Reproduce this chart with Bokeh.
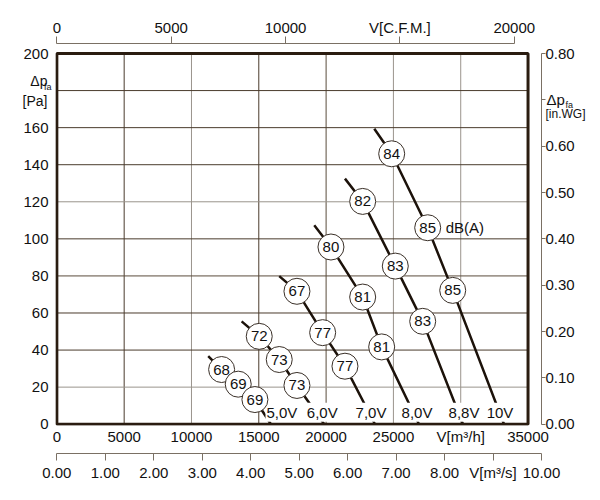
from bokeh.plotting import figure
from bokeh.models import Range1d, LinearAxis, FixedTicker, NumeralTickFormatter
from bokeh.embed import file_html
from bokeh.resources import INLINE
from bokeh.core.properties import value

# axes (air flow in m3/h, pressure in Pa)
x_max = 35000
y_max = 200
x_ticks = [0, 5000, 10000, 15000, 20000, 25000, 30000, 35000]
y_ticks = [0, 20, 40, 60, 80, 100, 120, 140, 160, 180, 200]
cfm_ticks = [0, 5000, 10000, 15000, 20000]
ms_ticks = [0, 1, 2, 3, 4, 5, 6, 7, 8, 9, 10]
wg_ticks = [0.0, 0.1, 0.2, 0.3, 0.4, 0.5, 0.6, 0.7, 0.8]

# fan curves, one per control voltage
voltages = ["5,0V", "6,0V", "7,0V", "8,0V", "8,8V", "10V"]
curve_x = [
    [11243, 12239, 13473, 14713, 15902],
    [13725, 15033, 16519, 17834, 19863],
    [16519, 17834, 19744, 21401, 23631],
    [19120, 20361, 22717, 24128, 26900],
    [21401, 22717, 25139, 27175, 30170],
    [23579, 24872, 27547, 29405, 33217],
]
curve_y = [
    [36.7, 29.5, 21.6, 13.3, 0],
    [55.5, 47.4, 34.9, 20.9, 0],
    [79.9, 71.7, 49.4, 31.3, 0],
    [107.3, 95.6, 68.6, 41.7, 0],
    [132.5, 120.2, 85.3, 55.5, 0],
    [159.4, 145.9, 106.0, 72.2, 0],
]
# sound level dB(A) at the three marked points of each curve
noise = [
    ["68", "69", "69"],
    ["72", "73", "73"],
    ["67", "77", "77"],
    ["80", "81", "81"],
    ["82", "83", "83"],
    ["84", "85", "85"],
]

FONT = "Liberation Sans"
INK = "#111111"
AXIS = "#7a7064"

p = figure(width=600, height=500, output_backend="svg", toolbar_location=None,
           x_range=Range1d(-100, 36000), y_range=Range1d(-0.7, 205.4),
           x_axis_location=None, y_axis_location=None,
           min_border_left=55, min_border_right=59, min_border_top=43, min_border_bottom=75)
p.outline_line_color = None
p.xgrid.visible = False
p.ygrid.visible = False

# extra scales
p.extra_x_ranges = {"cfm": Range1d(-100 / 1.699, 36000 / 1.699),
                    "ms": Range1d(-100 / 3600, 36000 / 3600)}
p.extra_y_ranges = {"wg": Range1d(-0.7 / 250, 205.4 / 250)}


def style(ax, size="15px"):
    ax.major_label_text_font = FONT
    ax.major_label_text_font_size = size
    ax.major_label_text_color = INK
    ax.axis_line_color = AXIS
    ax.major_tick_line_color = AXIS
    ax.minor_tick_line_color = None
    ax.major_tick_in = 0
    ax.major_tick_out = 7


def text_axis(ticks, labels, size, standoff, side):
    # axis carrying only texts (titles of the pressure scales)
    ax = LinearAxis(ticker=FixedTicker(ticks=ticks),
                    major_label_overrides=dict(zip(ticks, labels)))
    style(ax, size)
    ax.axis_line_color = None
    ax.major_tick_line_color = None
    ax.major_tick_out = 0
    ax.major_label_standoff = standoff
    p.add_layout(ax, side)


ax_mh = LinearAxis(ticker=FixedTicker(ticks=x_ticks), formatter=NumeralTickFormatter(format="0"),
                   major_label_overrides={30000: "V[m³/h]"})
style(ax_mh)
ax_mh.axis_line_color = None
ax_mh.major_tick_out = 0
ax_mh.major_label_standoff = 2
ax_mh.axis_label = " "
ax_mh.axis_label_text_font_size = "1px"
ax_mh.axis_label_standoff = 2
p.add_layout(ax_mh, "below")

ax_ms = LinearAxis(x_range_name="ms", ticker=FixedTicker(ticks=ms_ticks),
                   formatter=NumeralTickFormatter(format="0.00"),
                   major_label_overrides={9: "V[m³/s]"}, bounds=(0, 10))
style(ax_ms)
ax_ms.major_label_standoff = 3
p.add_layout(ax_ms, "below")

ax_cfm = LinearAxis(x_range_name="cfm", ticker=FixedTicker(ticks=cfm_ticks),
                    formatter=NumeralTickFormatter(format="0"),
                    major_label_overrides={15000: "V[C.F.M.]"}, bounds=(0, 20000))
style(ax_cfm)
ax_cfm.major_label_standoff = 1
p.add_layout(ax_cfm, "above")

# left side: subscript, then title, then the Pa numbers (stacked outward)
text_axis([182.0], ["fa"], "9px", 4, "left")
text_axis([184.9, 174.4], ["Δp", "[Pa]"], "14px", -7, "left")

ax_pa = LinearAxis(ticker=FixedTicker(ticks=y_ticks), formatter=NumeralTickFormatter(format="0"),
                   major_label_overrides={180: ""})
style(ax_pa)
ax_pa.axis_line_color = None
ax_pa.major_tick_out = 0
ax_pa.major_label_standoff = -29
p.add_layout(ax_pa, "left")

# right side: in.WG numbers, then title parts pulled back next to them
ax_wg = LinearAxis(y_range_name="wg", ticker=FixedTicker(ticks=wg_ticks),
                   formatter=NumeralTickFormatter(format="0.00"),
                   major_label_overrides={0.7: ""}, bounds=(0, 0.8))
style(ax_wg)
ax_wg.major_tick_out = 4
ax_wg.major_label_standoff = 0
p.add_layout(ax_wg, "right")

text_axis([172.2], ["fa"], "9px", -12, "right")
text_axis([175.0], ["Δp"], "15px", -31, "right")
text_axis([167.1], ["[in.WG]"], "12px", -32, "right")

# grid inside the chart frame
gx = x_ticks[1:-1]
gy = y_ticks[1:-1]
gx_col = ["#4a3b2c", "#9a948c", "#4a3b2c", "#5a4c3c", "#9a948c", "#9a948c"]
gy_col = ["#9a948c", "#4a3b2c", "#4a3b2c", "#5a4c3c", "#4a3b2c", "#9a948c", "#4a3b2c", "#4a3b2c", "#4a3b2c"]
p.segment(x0=gx, y0=[0] * len(gx), x1=gx, y1=[y_max] * len(gx), line_color=gx_col, line_width=1)
p.segment(x0=[0] * len(gy), y0=gy, x1=[x_max] * len(gy), y1=gy, line_color=gy_col, line_width=1)

# curves
p.multi_line(xs=curve_x, ys=curve_y, line_color="#1c120a", line_width=2.5)

# frame
p.quad(left=[0], right=[x_max], bottom=[0], top=[y_max], fill_color=None,
       line_color="#2a1c10", line_width=3)

# voltage labels at the foot of each curve
p.text(x=[c[-1] for c in curve_x], y=[0] * len(voltages), text=voltages,
       x_offset=[11, -2, -4, -2, 1, -4], y_offset=-12,
       text_font=value(FONT), text_font_size="15px", text_color=INK,
       text_align="center", text_baseline="middle",
       background_fill_color="white", padding=1)

# noise circles
px_ = [x for c in curve_x for x in c[1:4]]
py_ = [y for c in curve_y for y in c[1:4]]
pt_ = [t for n in noise for t in n]
p.scatter(x=px_, y=py_, marker="circle", size=26, fill_color="white",
          line_color="#3a3028", line_width=1)
p.text(x=px_, y=py_, text=pt_, text_font=value(FONT), text_font_size="15px",
       text_color=INK, text_align="center", text_baseline="middle")
p.text(x=[curve_x[5][2]], y=[curve_y[5][2]], text=["dB(A)"], x_offset=18,
       text_font=value(FONT), text_font_size="15px", text_color=INK,
       text_align="left", text_baseline="middle")

open("out.html", "w").write(file_html(p, INLINE))
